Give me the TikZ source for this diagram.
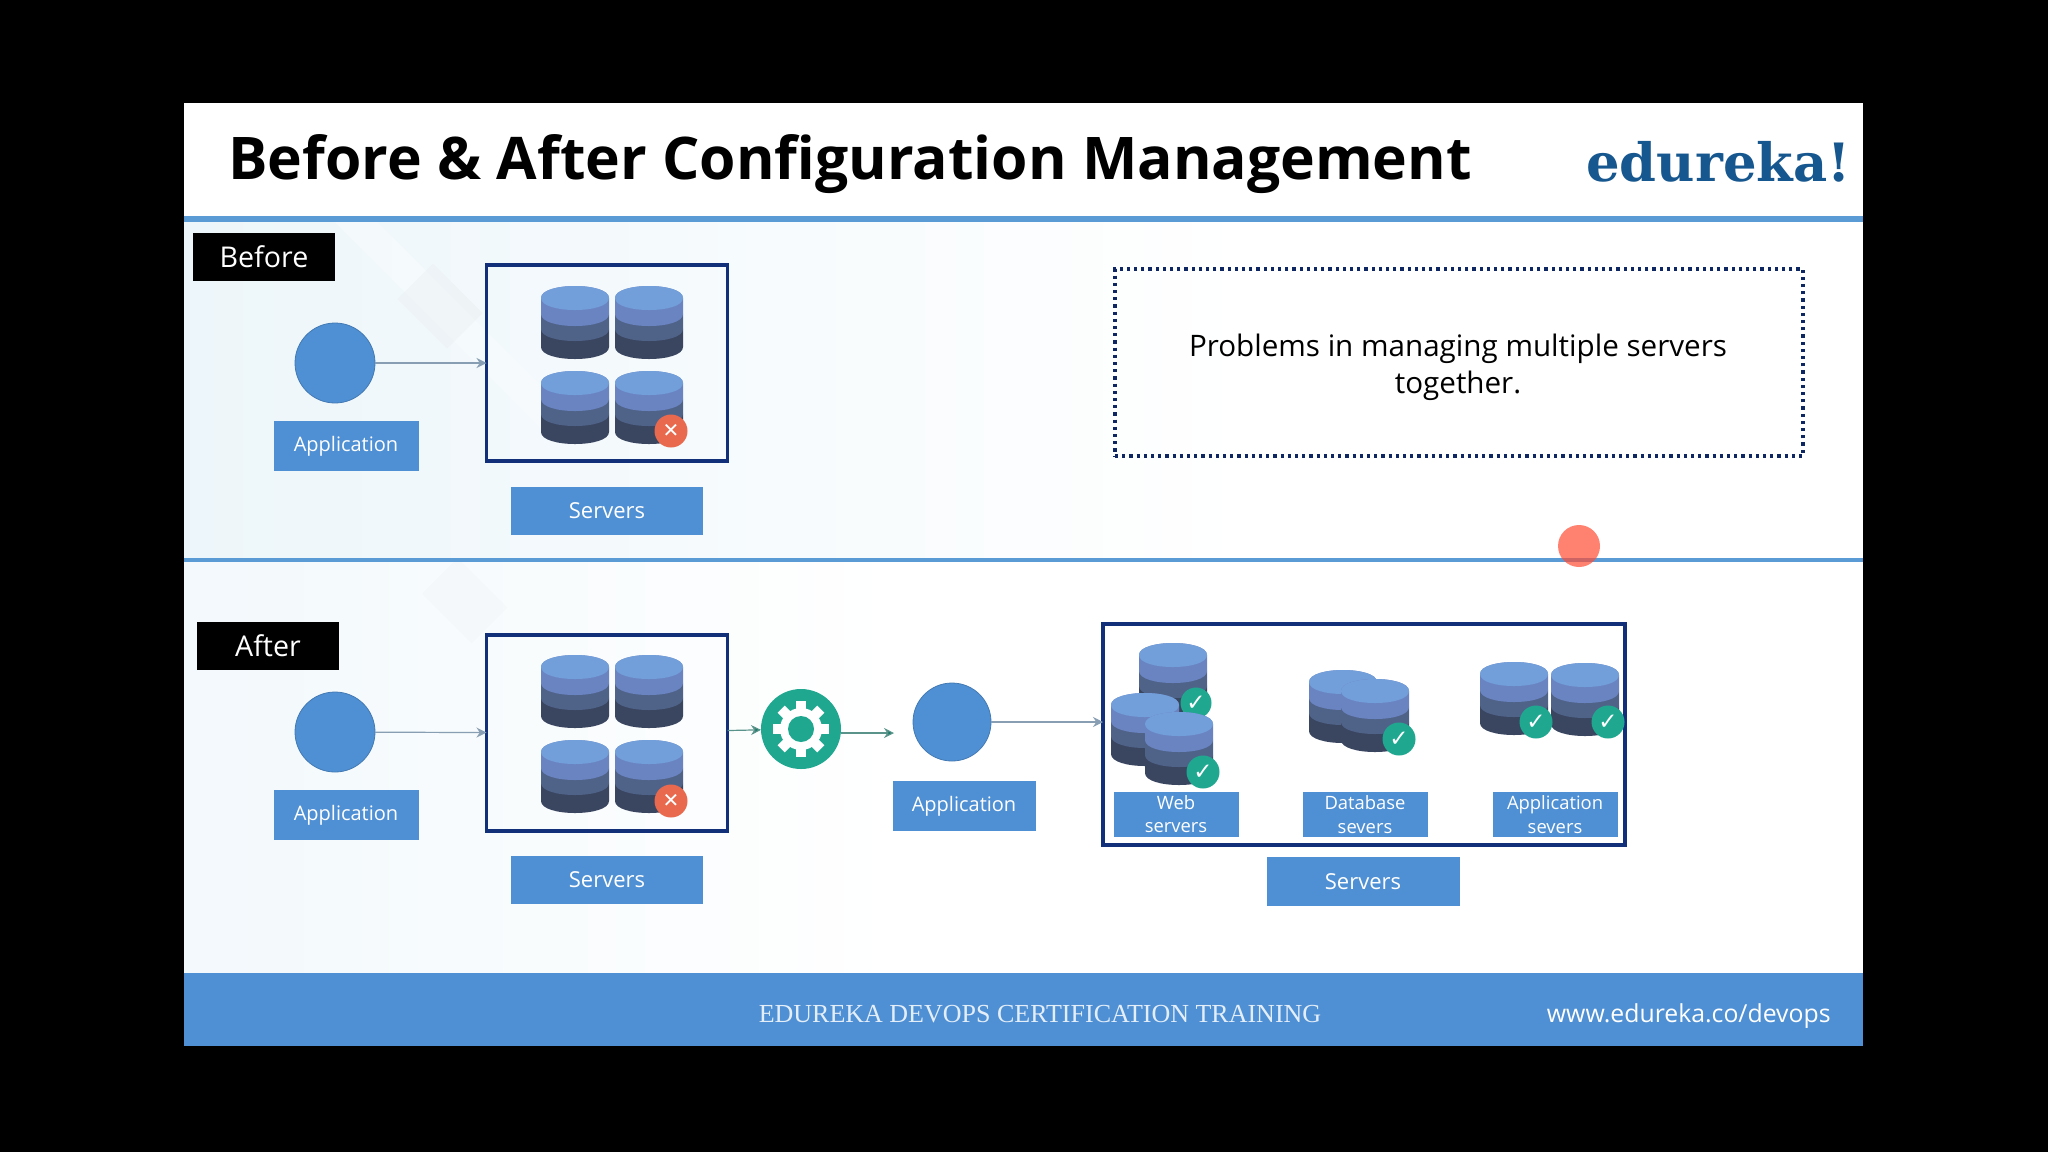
\documentclass[tikz,border=0pt]{standalone}
\usepackage{fontspec}
\setmainfont{Open Sans}
\newfontfamily\slabfont{DejaVu Serif}
\newfontfamily\footfont{Liberation Serif}
\newfontfamily\symfont{DejaVu Sans}
\usetikzlibrary{arrows.meta,shapes}
\definecolor{boxblue}{HTML}{4F90D4}
\definecolor{linkblue}{HTML}{5B9BD5}
\definecolor{framenavy}{HTML}{12307A}
\definecolor{logoblue}{HTML}{17578F}
\definecolor{tealok}{HTML}{1FA88F}
\definecolor{redbad}{HTML}{E8694E}
\definecolor{paleblue}{HTML}{EDF6FA}
\definecolor{dba}{HTML}{729FDA}
\definecolor{dbb}{HTML}{6A84C2}
\definecolor{dbc}{HTML}{4F6389}
\definecolor{dbd}{HTML}{3A4560}
\tikzset{
  bluebox/.style={draw=none, fill=boxblue, text=white, font=\fontsize{10}{12}\selectfont, inner sep=0pt, outer sep=0pt},
  serverbox/.style={bluebox, minimum width=96pt, minimum height=24pt, font=\fontsize{11}{12}\selectfont},
  subbox/.style={bluebox, minimum width=62.5pt, minimum height=22.5pt, align=center, font=\fontsize{9.2}{11.8}\selectfont},
  tagbox/.style={fill=black, text=white, inner sep=0pt, minimum width=71pt, minimum height=24pt, font=\fontsize{14.3}{16}\selectfont},
  appcircle/.style={circle, fill=boxblue, draw=boxblue!85!black, line width=.4pt, minimum size=40pt, inner sep=0pt, outer sep=0pt},
  frame/.style={draw=framenavy, line width=1.6pt, inner sep=0pt, outer sep=0pt},
  flow/.style={draw=black!40!linkblue!60, line width=.6pt, -{Stealth[length=5pt,width=5pt]}},
  greenflow/.style={draw=tealok!60!black!70, line width=.6pt, -{Stealth[length=5pt,width=5pt,fill=tealok!70!black]}},
  okbadge/.style={circle, fill=tealok, text=white, inner sep=0pt, minimum size=16.5pt, font=\symfont\bfseries\fontsize{11.5}{12}\selectfont},
  badbadge/.style={circle, fill=redbad, text=white, inner sep=0pt, minimum size=16.5pt, font=\symfont\bfseries\fontsize{10}{12}\selectfont},
}
\newcommand{\dbstack}[3]{%
  \pgfmathsetmacro{\xr}{#1+#3}
  \foreach \clr/\ctop/\cbot in {dbd/43/61, dbc/28/43, dbb/12/28, dba/12/12}{
    \fill[\clr] (#1,#2+\ctop) -- (#1,#2+\cbot)
      .. controls (#1,#2+\cbot+16) and (\xr,#2+\cbot+16) .. (\xr,#2+\cbot)
      -- (\xr,#2+\ctop)
      .. controls (\xr,#2+\ctop-16) and (#1,#2+\ctop-16) .. (#1,#2+\ctop) -- cycle;
  }
}
\begin{document}
\begin{tikzpicture}[x=.5pt,y=-.5pt]
\useasboundingbox (0,0) rectangle (2048,1152);
\fill[black] (0,0) rectangle (2048,1152);
\fill[white] (184,103) rectangle (1863,1046);
\shade[left color=paleblue, right color=white] (184,222) rectangle (1250,558);
\shade[left color=paleblue!70, right color=white] (184,562) rectangle (900,973);
\fill[white, opacity=.3, rotate around={-45:(440,306)}] (300,291) rectangle (620,321);
\fill[black!20, opacity=.10, rotate around={-45:(440,306)}] (405,281) rectangle (475,331);
\fill[black!20, opacity=.06, rotate around={-45:(464,600)}] (430,575) rectangle (500,625);
\fill[linkblue] (184,216) rectangle (1863,222);
\fill[linkblue] (184,558) rectangle (1863,562);
\fill[boxblue] (184,973) rectangle (1863,1046);

\node (title) [anchor=base west, inner sep=0pt, font=\bfseries\fontsize{29.4}{34}\selectfont] at (228,179) {Before \& After Configuration Management};
\node (logo) [anchor=base east, inner sep=0pt, text=logoblue, font=\slabfont\bfseries\fontsize{26.4}{30}\selectfont] at (1851,181) {edureka!};

\node (beforetag) [tagbox] at (264,257) {Before};
\node (apca) [appcircle] at (335,363) {};
\node (appa) [bluebox, minimum width=72.5pt, minimum height=25pt] at (346,446) {Application};
\node (srva) [frame, minimum width=120.5pt, minimum height=98pt] at (607,363) {};
\node (lbla) [serverbox] at (607,511) {Servers};
\foreach \cx in {541,615}{
  \foreach \cy in {286,371}{
    \dbstack{\cx}{\cy}{68}
  }
}
\node (bada) [badbadge] at (671,431) {✕};
\draw[flow] (apca) -- (srva);

\node (probbox) [draw=framenavy!80!black, line width=1.6pt, dotted, minimum width=344pt, minimum height=93.5pt, inner sep=0pt] at (1459,362.5) {};
\node (probtext) [align=center, inner sep=0pt, font=\fontsize{14.8}{18.5}\selectfont] at (1458,367) {Problems in managing multiple servers\\together.};
\node (pointer) [circle, fill=red!75!orange!80, opacity=.7, minimum size=21pt, inner sep=0pt] at (1579,546) {};

\node (aftertag) [tagbox] at (268,646) {After};
\node (apcb) [appcircle] at (335,732) {};
\node (appb) [bluebox, minimum width=72.5pt, minimum height=25pt] at (346,815) {Application};
\node (srvb) [frame, minimum width=120.5pt, minimum height=98pt] at (607,733) {};
\node (lblb) [serverbox] at (607,880) {Servers};
\foreach \cx in {541,615}{
  \foreach \cy in {655,740}{
    \dbstack{\cx}{\cy}{68}
  }
}
\node (badb) [badbadge] at (671,801) {✕};
\draw[flow] (apcb) -- (srvb);

\node (gear) [circle, fill=tealok, minimum size=40pt, inner sep=0pt, outer sep=0pt] at (801,729) {};
\foreach \a in {0,45,...,315}{
  \fill[white, rotate around={\a:(gear.center)}] (796,701) rectangle (806,712);
}
\fill[white] (gear.center) circle (21);
\fill[tealok] (gear.center) circle (13);
\coordinate (gearout) at (894,733);
\draw[greenflow] (srvb) -- (gear);
\draw[greenflow] (gear.east |- gearout) -- (gearout);

\node (apcc) [appcircle, minimum size=39pt] at (952,722) {};
\node (appc) [bluebox, minimum width=71.5pt, minimum height=25pt] at (964,806) {Application};
\node (srvc) [frame, minimum width=261pt, minimum height=110.5pt] at (1364,734.5) {};
\draw[flow] (apcc) -- (apcc -| srvc.west);
\node (lblc) [serverbox, minimum width=96.5pt, minimum height=24.5pt] at (1363,881.5) {Servers};

\dbstack{1139}{643}{68}
\node (okweb) [okbadge, minimum size=15.5pt] at (1196,703) {✓};
\dbstack{1111}{693}{68}
\dbstack{1145}{712}{68}
\node (okwebb) [okbadge] at (1203,772) {✓};
\dbstack{1309}{670}{68}
\dbstack{1341}{679}{68}
\node (okdb) [okbadge] at (1399,739) {✓};
\dbstack{1480}{662}{68}
\dbstack{1551}{663}{68}
\node (okapp) [okbadge] at (1536,722) {✓};
\node (okappb) [okbadge] at (1608,722) {✓};

\node (subweb) [subbox] at (1176,814) {Web\\servers};
\node (subdb) [subbox] at (1365,814.5) {Database\\severs};
\node (subapp) [subbox] at (1555,814.5) {Application\\severs};

\node (foottext) [text=white!85!boxblue, inner sep=0pt, font=\footfont\fontsize{13}{16}\selectfont] at (1040,1014) {EDUREKA DEVOPS CERTIFICATION TRAINING};
\node (footurl) [anchor=east, text=white, inner sep=0pt, font=\fontsize{12.4}{15}\selectfont] at (1831,1016) {www.edureka.co/devops};
\end{tikzpicture}
\end{document}
